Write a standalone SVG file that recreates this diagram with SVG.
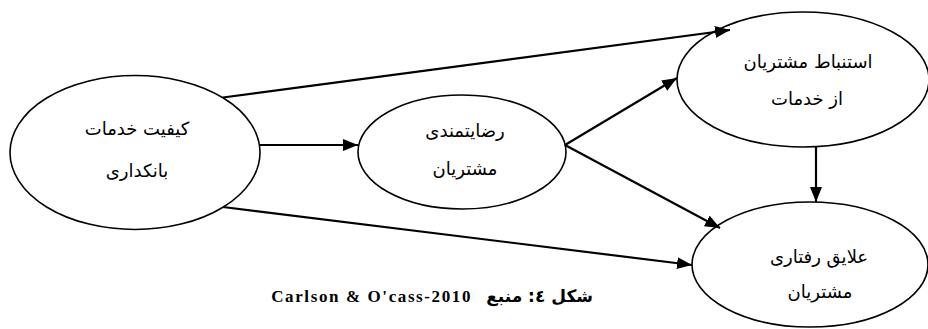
<svg xmlns="http://www.w3.org/2000/svg" width="928" height="329" viewBox="0 0 928 329">
<style>
.node ellipse{fill:#fff;stroke:#000;stroke-width:1.6}
.lbl{font-family:"DejaVu Sans",sans-serif;font-size:18px;fill:#000;text-anchor:middle;direction:rtl}
.edge{stroke:#000;stroke-width:2.2;fill:none;marker-end:url(#ah)}
.cap{font-family:"Liberation Serif","DejaVu Serif",serif;font-weight:bold;font-size:17px;fill:#000}
.capar{font-family:"DejaVu Sans",sans-serif;font-weight:bold;font-size:17px;fill:#000}
</style>
<defs>
<marker id="ah" markerUnits="userSpaceOnUse" markerWidth="16" markerHeight="12" refX="15" refY="6" orient="auto">
<path d="M0,0 L15,6 L0,12 z" fill="#000"/>
</marker>
</defs>
<g id="n1" class="node">
<ellipse cx="135" cy="152.5" rx="125" ry="77"/>
<text class="lbl" x="137" y="135">کیفیت خدمات</text>
<text class="lbl" x="137" y="177">بانکداری</text>
</g>
<g id="n2" class="node">
<ellipse cx="462" cy="152" rx="104" ry="57"/>
<text class="lbl" x="465" y="137">رضایتمندی</text>
<text class="lbl" x="465" y="175">مشتریان</text>
</g>
<g id="n3" class="node">
<ellipse cx="803" cy="79.5" rx="126" ry="67.5"/>
<text class="lbl" x="808" y="68">استنباط مشتریان</text>
<text class="lbl" x="807" y="105">از خدمات</text>
</g>
<g id="n4" class="node">
<ellipse cx="810" cy="264.5" rx="118" ry="62.5"/>
<text class="lbl" x="819" y="263">علایق رفتاری</text>
<text class="lbl" x="820" y="298">مشتریان</text>
</g>
<g id="edges">
<line class="edge" x1="223" y1="97.5" x2="730" y2="30"/>
<line class="edge" x1="260" y1="145" x2="358" y2="145"/>
<line class="edge" x1="223" y1="207" x2="692" y2="265"/>
<line class="edge" x1="565" y1="145" x2="677" y2="78"/>
<line class="edge" x1="565" y1="145" x2="720" y2="228"/>
<line class="edge" x1="816" y1="147" x2="816" y2="202"/>
</g>
<g id="caption">
<text class="capar" x="593" y="302" text-anchor="start" direction="rtl">شکل ٤: منبع</text>
<text class="cap" x="472" y="302" text-anchor="end" letter-spacing="1.6">Carlson &amp; O'cass-2010</text>
</g>
</svg>
